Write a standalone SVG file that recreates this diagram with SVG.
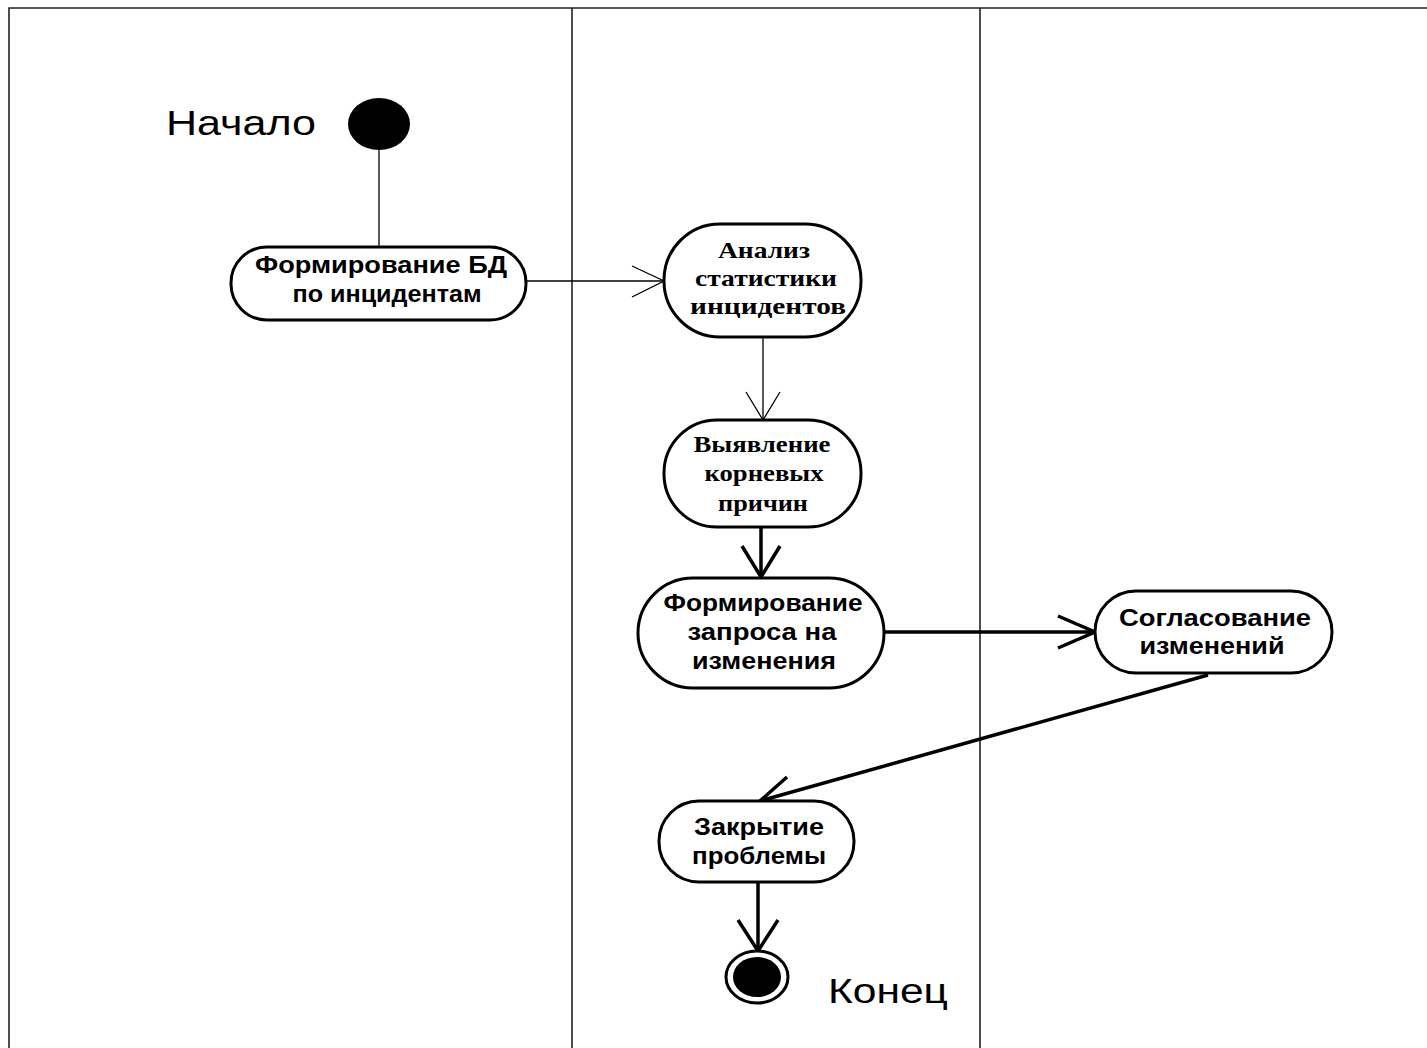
<svg xmlns="http://www.w3.org/2000/svg" width="1427" height="1048" viewBox="0 0 1427 1048">
<style>
.frame{fill:none;stroke:#222;stroke-width:1.6}
.node{fill:#fff;stroke:#000;stroke-width:3}
.sans{font-family:"Liberation Sans",Arial,sans-serif;font-weight:bold;font-size:24px;fill:#000;text-anchor:middle}
.serif{font-family:"Liberation Serif","Times New Roman",serif;font-weight:bold;font-size:24px;fill:#000;text-anchor:middle}
.lbl{font-family:"Liberation Sans",Arial,sans-serif;font-size:35px;fill:#000}
.thin{fill:none;stroke:#000;stroke-width:1.3}
.thick{fill:none;stroke:#000;stroke-width:3.5}
</style>
<rect width="1427" height="1048" fill="#fff"/>
<g id="frame">
<path class="frame" d="M9,1048 V8 H1427"/>
<line class="frame" x1="572" y1="8" x2="572" y2="1048"/>
<line class="frame" x1="980" y1="8" x2="980" y2="1048"/>
</g>
<g id="connectors">
<line class="thin" x1="379" y1="150" x2="379" y2="248"/>
<line class="thin" x1="526" y1="281" x2="664" y2="281"/>
<polyline class="thin" points="632,266 664,281 632,297"/>
<line class="thin" x1="763" y1="337" x2="763" y2="420"/>
<polyline class="thin" points="746,392 763,420 780,392"/>
<line class="thick" x1="761" y1="527" x2="761" y2="577"/>
<polyline class="thick" points="742,546 761,577 780,546"/>
<line class="thick" x1="884" y1="632" x2="1095" y2="632"/>
<polyline class="thick" points="1058,616 1095,632 1058,648"/>
<line class="thick" x1="1208" y1="675" x2="760" y2="801"/>
<polyline class="thick" points="787,777 760,801 797,802"/>
<line class="thick" x1="758" y1="882" x2="758" y2="951"/>
<polyline class="thick" points="738,920 758,951 778,920"/>
</g>
<g id="start">
<ellipse cx="379" cy="124" rx="31" ry="26" fill="#000"/>
<text class="lbl" x="166" y="135" textLength="150" lengthAdjust="spacingAndGlyphs">Начало</text>
</g>
<g id="n1">
<rect class="node" x="231" y="247" width="295" height="73" rx="36" ry="36"/>
<text class="sans" x="381" y="273" textLength="252" lengthAdjust="spacingAndGlyphs">Формирование БД</text>
<text class="sans" x="387" y="302" textLength="189" lengthAdjust="spacingAndGlyphs">по инцидентам</text>
</g>
<g id="n2">
<rect class="node" x="664" y="224" width="197" height="113" rx="56" ry="56"/>
<text class="serif" x="764" y="258" textLength="92" lengthAdjust="spacingAndGlyphs">Анализ</text>
<text class="serif" x="766" y="286" textLength="142" lengthAdjust="spacingAndGlyphs">статистики</text>
<text class="serif" x="768" y="314" textLength="156" lengthAdjust="spacingAndGlyphs">инцидентов</text>
</g>
<g id="n3">
<rect class="node" x="664" y="420" width="197" height="107" rx="53" ry="53"/>
<text class="serif" x="762" y="452" textLength="137" lengthAdjust="spacingAndGlyphs">Выявление</text>
<text class="serif" x="764" y="481" textLength="119" lengthAdjust="spacingAndGlyphs">корневых</text>
<text class="serif" x="763" y="511" textLength="90" lengthAdjust="spacingAndGlyphs">причин</text>
</g>
<g id="n4">
<rect class="node" x="638" y="578" width="246" height="110" rx="55" ry="55"/>
<text class="sans" x="763" y="611" textLength="199" lengthAdjust="spacingAndGlyphs">Формирование</text>
<text class="sans" x="762" y="640" textLength="149" lengthAdjust="spacingAndGlyphs">запроса на</text>
<text class="sans" x="764" y="669" textLength="144" lengthAdjust="spacingAndGlyphs">изменения</text>
</g>
<g id="n5">
<rect class="node" x="1095" y="591" width="237" height="82" rx="41" ry="41"/>
<text class="sans" x="1215" y="626" textLength="192" lengthAdjust="spacingAndGlyphs">Согласование</text>
<text class="sans" x="1212" y="654" textLength="145" lengthAdjust="spacingAndGlyphs">изменений</text>
</g>
<g id="n6">
<rect class="node" x="659" y="801" width="195" height="81" rx="40" ry="40"/>
<text class="sans" x="759" y="835" textLength="130" lengthAdjust="spacingAndGlyphs">Закрытие</text>
<text class="sans" x="759" y="864" textLength="134" lengthAdjust="spacingAndGlyphs">проблемы</text>
</g>
<g id="end">
<ellipse cx="757" cy="977" rx="31" ry="26" fill="#fff" stroke="#000" stroke-width="3"/>
<ellipse cx="757" cy="977" rx="24" ry="20" fill="#000"/>
<text class="lbl" x="828" y="1003" textLength="120" lengthAdjust="spacingAndGlyphs">Конец</text>
</g>
</svg>
